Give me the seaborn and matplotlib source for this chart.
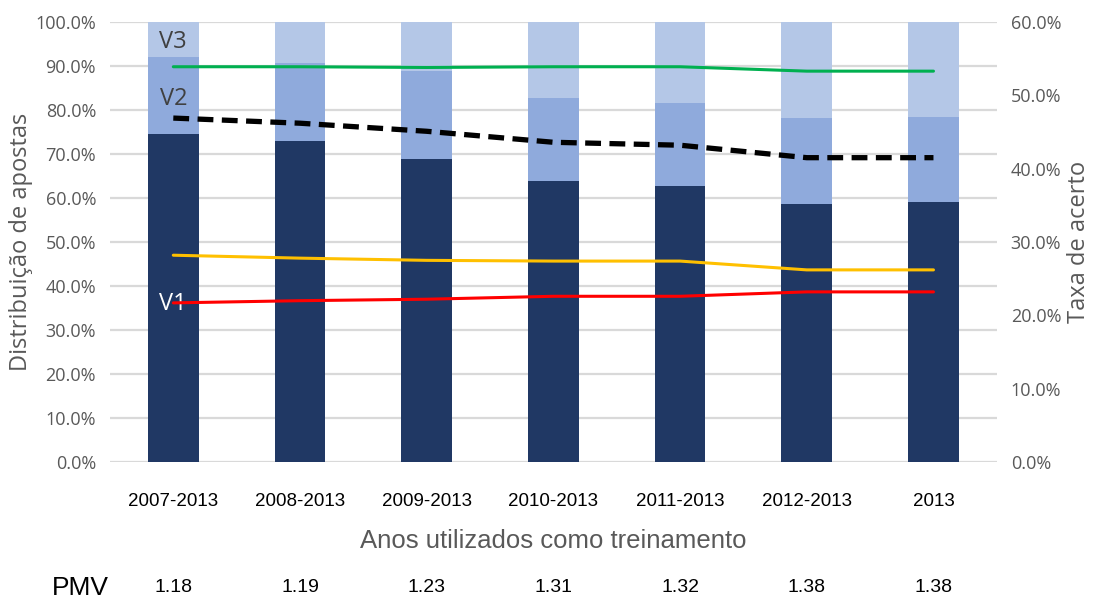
import matplotlib
matplotlib.use('Agg')
import matplotlib.pyplot as plt
import matplotlib.transforms as mtransforms
from matplotlib.ticker import MultipleLocator, PercentFormatter
import seaborn as sns
import pandas as pd

# ─── Data ───
periods = ['2007-2013', '2008-2013', '2009-2013', '2010-2013', '2011-2013', '2012-2013', '2013']
v1 = [74.5, 73.0, 68.9, 63.9, 62.7, 58.7, 59.0]
v2 = [17.5, 17.7, 20.0, 18.8, 19.0, 19.5, 19.5]
v3 = [8.0, 9.3, 11.1, 17.3, 18.3, 21.8, 21.5]
pmv = ['1.18', '1.19', '1.23', '1.31', '1.32', '1.38', '1.38']

rate_green = [53.9, 53.9, 53.8, 53.9, 53.9, 53.3, 53.3]
rate_black = [46.9, 46.2, 45.1, 43.6, 43.2, 41.5, 41.5]
rate_yellow = [28.2, 27.8, 27.5, 27.4, 27.4, 26.2, 26.2]
rate_red = [21.7, 22.0, 22.2, 22.6, 22.6, 23.2, 23.2]

# ─── Setup ───
sns.set_theme(style='white')
plt.rcParams['font.family'] = ['Open Sans', 'DejaVu Sans']
NARROW = ['Liberation Sans', 'DejaVu Sans']
GRAY = '#595959'

df = pd.DataFrame({'period': periods, 'v1': v1, 'v2': v2, 'v3': v3})
df['v12'] = df['v1'] + df['v2']
df['v123'] = df['v12'] + df['v3']

fig = plt.figure(figsize=(10.93, 6.03), dpi=100)
ax = fig.add_axes([0.1006, 0.2338, 0.8114, 0.7297])

# stacked bars drawn as overlapping cumulative totals
for col, c in [('v123', '#B4C7E7'), ('v12', '#8FAADC'), ('v1', '#203864')]:
    sns.barplot(data=df, x='period', y=col, color=c, width=0.4, saturation=1,
                linewidth=0, edgecolor='none', ax=ax, zorder=2)

ax.set_ylim(0, 100)
ax.set_xlim(-0.5, len(periods) - 0.5)
ax.yaxis.set_major_locator(MultipleLocator(10))
ax.yaxis.set_major_formatter(PercentFormatter(decimals=1))
ax.grid(axis='y', color='#D9D9D9', linewidth=1.6, zorder=0)
ax.set_axisbelow(True)
for s in ax.spines.values():
    s.set_visible(False)
ax.tick_params(axis='y', labelsize=13, labelcolor=GRAY, length=0, pad=10)
ax.tick_params(axis='x', length=0, pad=22)
for lab in ax.get_xticklabels():
    lab.set_family(NARROW)
    lab.set_fontsize(13.5)
    lab.set_color('black')
ax.set_ylabel('Distribuição de apostas', fontsize=17, color=GRAY, labelpad=2)
ax.set_xlabel('Anos utilizados como treinamento', fontsize=18.5, color=GRAY,
              family=NARROW, labelpad=14)

# segment labels in first bar
ax.text(0, 95.5, 'V3', ha='center', va='center', fontsize=17, color='#404040', zorder=5)
ax.text(0, 82.5, 'V2', ha='center', va='center', fontsize=17, color='#404040', zorder=5)
ax.text(0, 36.0, 'V1', ha='center', va='center', fontsize=17, color='white', zorder=5)

# ─── Right axis: hit rates ───
ax2 = ax.twinx()
xpos = list(range(len(periods)))
sns.lineplot(x=xpos, y=rate_green, color='#00B050', linewidth=2.2, ax=ax2)
sns.lineplot(x=xpos, y=rate_black, color='black', linewidth=3.8, ax=ax2,
             dashes=False, linestyle=(0, (3, 1.6)))
sns.lineplot(x=xpos, y=rate_yellow, color='#FFC000', linewidth=2.2, ax=ax2)
sns.lineplot(x=xpos, y=rate_red, color='#FF0000', linewidth=2.2, ax=ax2)
ax2.set_ylim(0, 60)
ax2.yaxis.set_major_locator(MultipleLocator(10))
ax2.yaxis.set_major_formatter(PercentFormatter(decimals=1))
for s in ax2.spines.values():
    s.set_visible(False)
ax2.tick_params(axis='y', labelsize=13, labelcolor=GRAY, length=0, pad=10)
ax2.set_ylabel('Taxa de acerto', fontsize=17, color=GRAY, labelpad=4)
ax2.grid(False)

# ─── PMV row ───
trans = mtransforms.blended_transform_factory(ax.transData, fig.transFigure)
for i, val in enumerate(pmv):
    ax.text(i, 0.025, val, transform=trans, ha='center', va='center',
            fontsize=14, family=NARROW, color='black')
fig.text(80 / 1093, 0.025, 'PMV', ha='center', va='center', fontsize=19,
         family=NARROW, color='black')

fig.savefig('out.png', dpi=100)
plt.close()
